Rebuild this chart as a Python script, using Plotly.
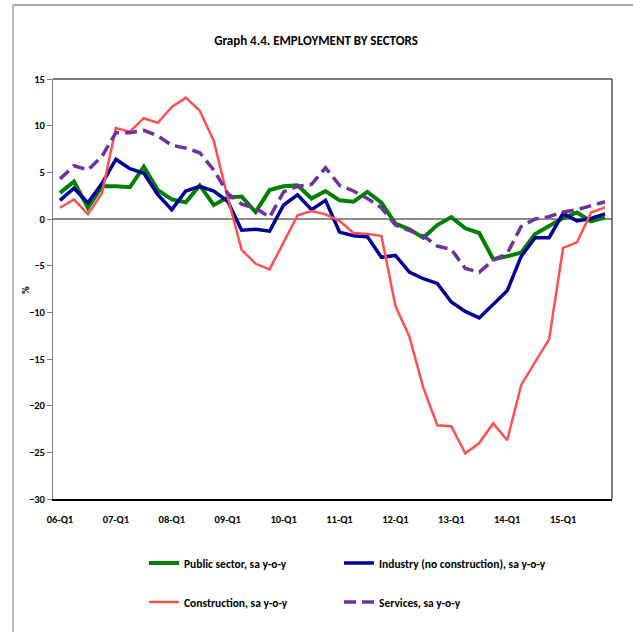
import plotly.graph_objects as go

years = ["06", "07", "08", "09", "10", "11", "12", "13", "14", "15"]
quarters = [f"{y}-Q{q}" for y in years for q in range(1, 5)]
tick_labels = [f"{y}-Q1" for y in years]

public_sector = [2.8, 4.0, 1.2, 3.5, 3.5, 3.4, 5.6, 3.1, 2.1, 1.8,
                 3.6, 1.5, 2.3, 2.4, 0.75, 3.1, 3.5, 3.6, 2.2, 3.0,
                 2.0, 1.85, 2.9, 1.75, -0.5, -1.1, -2.0, -0.65, 0.2, -1.0,
                 -1.5, -4.3, -4.0, -3.6, -1.6, -0.8, 0.1, 0.7, -0.25, 0.15]
industry = [2.0, 3.3, 1.75, 3.8, 6.4, 5.4, 4.9, 2.6, 1.0, 3.0,
            3.5, 3.0, 1.9, -1.2, -1.1, -1.3, 1.5, 2.6, 1.0, 2.0,
            -1.4, -1.8, -1.9, -4.1, -3.9, -5.7, -6.4, -6.9, -8.9, -9.9,
            -10.6, -9.1, -7.7, -4.0, -2.0, -2.0, 0.6, -0.2, 0.05, 0.55]
construction = [1.2, 2.1, 0.5, 2.75, 9.75, 9.35, 10.8, 10.3, 12.0, 13.0,
                11.6, 8.4, 2.3, -3.3, -4.8, -5.4, -2.5, 0.4, 0.85, 0.5,
                -0.2, -1.5, -1.6, -1.8, -9.3, -12.6, -18.1, -22.1, -22.2, -25.1,
                -24.0, -21.9, -23.7, -17.8, -15.3, -12.9, -3.1, -2.5, 0.7, 1.25]
services = [4.3, 5.7, 5.25, 6.7, 9.25, 9.25, 9.5, 8.9, 7.9, 7.6,
            7.1, 5.25, 2.75, 1.6, 1.15, 0.2, 2.9, 3.5, 3.7, 5.5,
            3.6, 3.0, 2.2, 1.2, -0.65, -1.25, -1.8, -2.9, -3.25, -5.3,
            -5.7, -4.4, -3.7, -0.8, 0.0, 0.25, 0.75, 1.0, 1.4, 1.85]

FONT = "Carlito, Roboto Condensed, sans-serif"

fig = go.Figure()
fig.add_trace(go.Scatter(x=quarters, y=public_sector, mode="lines",
                         name="Public sector, sa y-o-y", showlegend=True,
                         line=dict(color="#008000", width=4), legend="legend"))
fig.add_trace(go.Scatter(x=quarters, y=industry, mode="lines",
                         name="Industry (no construction), sa y-o-y", showlegend=True,
                         line=dict(color="#000099", width=3.5), legend="legend2"))
fig.add_trace(go.Scatter(x=quarters, y=construction, mode="lines",
                         name="Construction, sa y-o-y", showlegend=True,
                         line=dict(color="#FF5050", width=2.5), legend="legend3"))
fig.add_trace(go.Scatter(x=quarters, y=services, mode="lines",
                         name="Services, sa y-o-y", showlegend=True,
                         line=dict(color="#7030A0", width=3.5, dash="12px,6px"),
                         legend="legend4"))

legend_common = dict(orientation="v", xanchor="left", yanchor="middle", itemwidth=30,
                     visible=True,
                     font=dict(family=FONT, size=11.5, color="#000", weight="bold"),
                     bgcolor="rgba(0,0,0,0)")


def px_x(v):
    return (v - 53) / 559


def px_y(v):
    return (499 - v) / 420


fig.update_layout(
    width=633, height=632,
    showlegend=True,
    margin=dict(l=53, r=21, t=79, b=133, autoexpand=False),
    paper_bgcolor="white", plot_bgcolor="white",
    title=dict(text="Graph 4.4. EMPLOYMENT BY SECTORS",
               x=316 / 633, xanchor="center", y=1 - 40 / 632, yanchor="middle",
               font=dict(family=FONT, size=13, color="#000", weight="bold")),
    legend=dict(x=px_x(144), y=px_y(563), **legend_common),
    legend2=dict(x=px_x(339), y=px_y(563), **legend_common),
    legend3=dict(x=px_x(144), y=px_y(602), **legend_common),
    legend4=dict(x=px_x(339), y=px_y(602), **legend_common),
    font=dict(family=FONT, color="#000"),
    hovermode=False,
    xaxis=dict(
        type="category", categoryorder="array", categoryarray=quarters,
        range=[-0.5, len(quarters) - 0.5], automargin=False,
        tickmode="array", tickvals=tick_labels, ticktext=tick_labels,
        showgrid=False, zeroline=False, showline=True,
        linecolor="#000", linewidth=2, mirror=False,
        ticks="outside", ticklen=9, tickcolor="rgba(0,0,0,0)",
        tickfont=dict(family=FONT, size=10.5, color="#000", weight="bold"),
        tickangle=0,
    ),
    yaxis=dict(
        range=[-30, 15], tickmode="linear", tick0=-30, dtick=5, automargin=False,
        showgrid=False, zeroline=True, zerolinecolor="#8c8c8c", zerolinewidth=1.5,
        showline=True, linecolor="#808080", linewidth=1,
        ticks="outside", ticklen=5, tickcolor="#808080",
        tickfont=dict(family=FONT, size=10.5, color="#000", weight="bold"),
    ),
    annotations=[
        dict(text="%", xref="paper", yref="paper",
             x=px_x(25), y=px_y(290), xanchor="center", yanchor="middle",
             textangle=-90, showarrow=False,
             font=dict(family=FONT, size=10.5, color="#000", weight="bold")),
    ],
    shapes=[
        dict(type="line", xref="paper", yref="paper", x0=0, x1=1, y0=1, y1=1,
             line=dict(color="#505050", width=1.5)),
        dict(type="line", xref="paper", yref="paper", x0=1, x1=1, y0=0, y1=1,
             line=dict(color="#505050", width=1.5)),
        dict(type="line", xref="paper", yref="paper",
             x0=px_x(13), x1=px_x(640), y0=px_y(5), y1=px_y(5),
             line=dict(color="#a6a6a6", width=2)),
        dict(type="line", xref="paper", yref="paper",
             x0=px_x(13), x1=px_x(13), y0=px_y(5), y1=px_y(640),
             line=dict(color="#a6a6a6", width=1.5)),
    ],
)

fig.write_html("out.html", config={"displayModeBar": False},
               post_script="document.body.style.margin='0';")
